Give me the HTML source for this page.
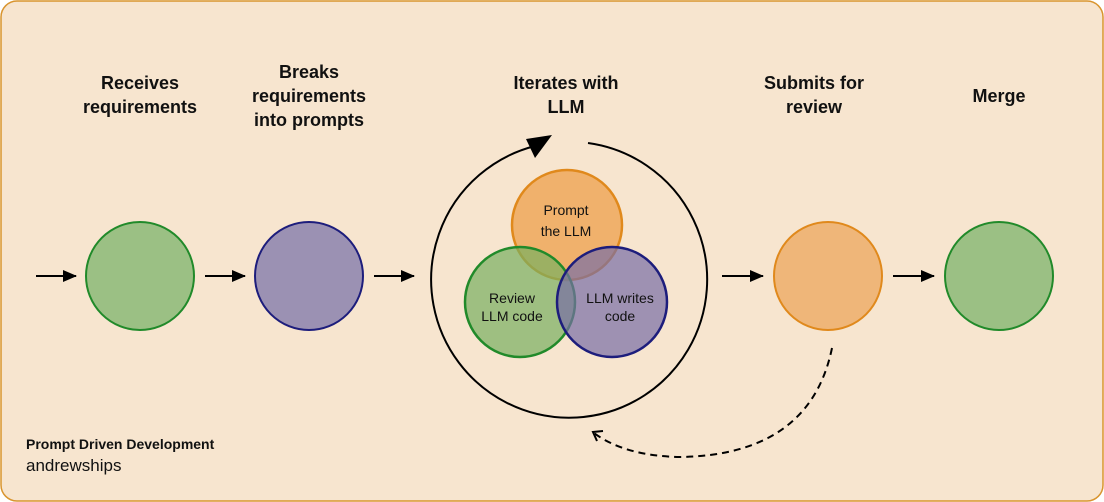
<!DOCTYPE html>
<html><head><style>
body{margin:0;width:1104px;height:502px;overflow:hidden;background:#fff}
svg{display:block}
text{font-family:"Liberation Sans",Arial,sans-serif}
</style></head><body>
<svg width="1104" height="502" viewBox="0 0 1104 502">
<defs>
<marker id="a" markerWidth="14" markerHeight="14" refX="13" refY="7" orient="auto" markerUnits="userSpaceOnUse"><path d="M0,1 L14,7 L0,13 Z" fill="#000"/></marker>
</defs>
<rect x="1" y="1" width="1102" height="500" rx="16" fill="#f7e5cf" stroke="#d9952f" stroke-width="1.5"/>
<g font-weight="bold" font-size="18" text-anchor="middle" fill="#111">
<text x="140" y="89">Receives</text><text x="140" y="113">requirements</text>
<text x="309" y="78">Breaks</text><text x="309" y="102">requirements</text><text x="309" y="126">into prompts</text>
<text x="566" y="89">Iterates with</text><text x="566" y="113">LLM</text>
<text x="814" y="89">Submits for</text><text x="814" y="113">review</text>
<text x="999" y="102">Merge</text>
</g>
<g stroke="#000" stroke-width="2" marker-end="url(#a)">
<line x1="36" y1="276" x2="76" y2="276"/>
<line x1="205" y1="276" x2="245" y2="276"/>
<line x1="374" y1="276" x2="414" y2="276"/>
<line x1="722" y1="276" x2="763" y2="276"/>
<line x1="893" y1="276" x2="934" y2="276"/>
</g>
<circle cx="140" cy="276" r="54" fill="#9bc084" stroke="#218a2a" stroke-width="2"/>
<circle cx="309" cy="276" r="54" fill="#9b91b3" stroke="#1d1d7c" stroke-width="2"/>
<circle cx="828" cy="276" r="54" fill="#efb679" stroke="#e0891c" stroke-width="2"/>
<circle cx="999" cy="276" r="54" fill="#9bc084" stroke="#218a2a" stroke-width="2"/>
<path d="M588,143 A138,138 0 1 1 535,146" fill="none" stroke="#000" stroke-width="2"/>
<path d="M526,139 L552,135 L535,158 Z" fill="#000"/>
<g stroke-width="2.5">
<circle cx="567" cy="225" r="55" fill="rgba(239,168,90,0.85)" stroke="#e0891c"/>
<circle cx="520" cy="302" r="55" fill="rgba(120,175,95,0.7)" stroke="#218a2a"/>
<circle cx="612" cy="302" r="55" fill="rgba(120,110,165,0.7)" stroke="#1d1d7c"/>
</g>
<g font-size="14" text-anchor="middle" fill="#111">
<text x="566" y="215">Prompt</text><text x="566" y="236">the LLM</text>
<text x="512" y="303">Review</text><text x="512" y="321">LLM code</text>
<text x="620" y="303">LLM writes</text><text x="620" y="321">code</text>
</g>
<path d="M832,348 Q810,455 680,457 Q625,456 594,433" fill="none" stroke="#000" stroke-width="2" stroke-dasharray="7,5"/>
<path d="M603,431 L593,432 L597,441" fill="none" stroke="#000" stroke-width="2"/>
<text x="26" y="449" font-size="14" font-weight="bold" fill="#111">Prompt Driven Development</text>
<text x="26" y="471" font-size="17" fill="#111">andrewships</text>
</svg>
</body></html>
